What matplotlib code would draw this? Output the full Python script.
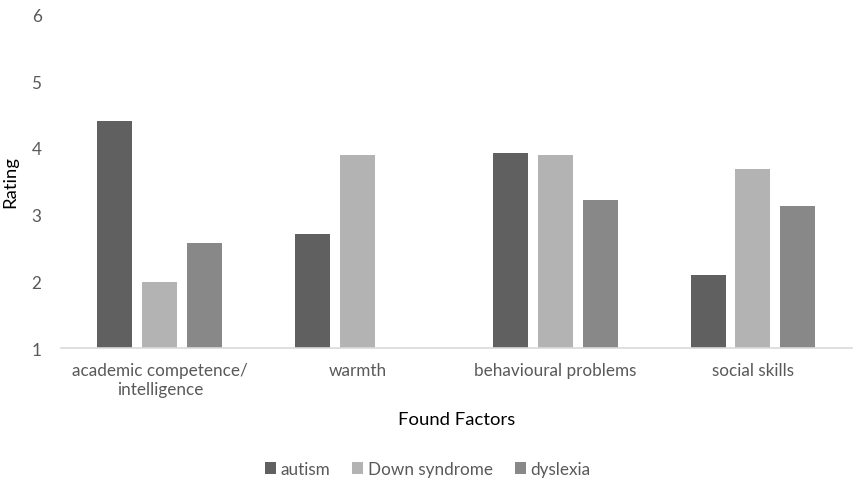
import numpy as np
import matplotlib
matplotlib.use("Agg")
import matplotlib.pyplot as plt

plt.rcParams['font.family'] = ['Lato', 'DejaVu Sans']

categories = ["academic competence/\nintelligence", "warmth", "behavioural problems", "social skills"]
autism = [4.40, 2.71, 3.92, 2.09]
down_syndrome = [1.99, 3.90, 3.89, 3.69]
dyslexia = [2.57, np.nan, 3.22, 3.13]

series = [("autism", autism, "#606060"),
          ("Down syndrome", down_syndrome, "#b3b3b3"),
          ("dyslexia", dyslexia, "#888888")]

text_col = "#595959"

fig = plt.figure(figsize=(8.55, 4.81), dpi=100)
ax = fig.add_axes([0.0713, 0.274, 0.925, 0.694])

x = np.arange(len(categories))
width = 0.177
step = 0.227
for i, (name, vals, col) in enumerate(series):
    v = np.array(vals, dtype=float)
    ax.bar(x + (i - 1) * step, v - 1, width, bottom=1, color=col, label=name)

ax.set_xlim(-0.5, len(categories) - 0.5)
ax.set_ylim(1, 6)
ax.set_yticks([1, 2, 3, 4, 5, 6])
ax.set_xticks(x)
ax.set_xticklabels(categories, fontsize=12.3, color=text_col, linespacing=1.2)
ax.tick_params(axis='y', labelsize=12.3, labelcolor=text_col, length=0, pad=14)
ax.tick_params(axis='x', length=0, pad=10)
for s in ["top", "right", "left"]:
    ax.spines[s].set_visible(False)
ax.spines["bottom"].set_color("#d9d9d9")
ax.spines["bottom"].set_linewidth(1.2)

ax.set_ylabel("Rating", fontsize=13.3, color="black")
ax.yaxis.set_label_coords(-0.054, 0.5)
ax.set_xlabel("Found Factors", fontsize=13.3, color="black", labelpad=10)

fig.legend(loc="center", bbox_to_anchor=(0.5, 0.023), ncol=3, frameon=False,
           fontsize=12.3, labelcolor=text_col, handlelength=0.65, handleheight=0.65,
           handletextpad=0.25, columnspacing=1.3)

fig.savefig("out.png", dpi=100)
